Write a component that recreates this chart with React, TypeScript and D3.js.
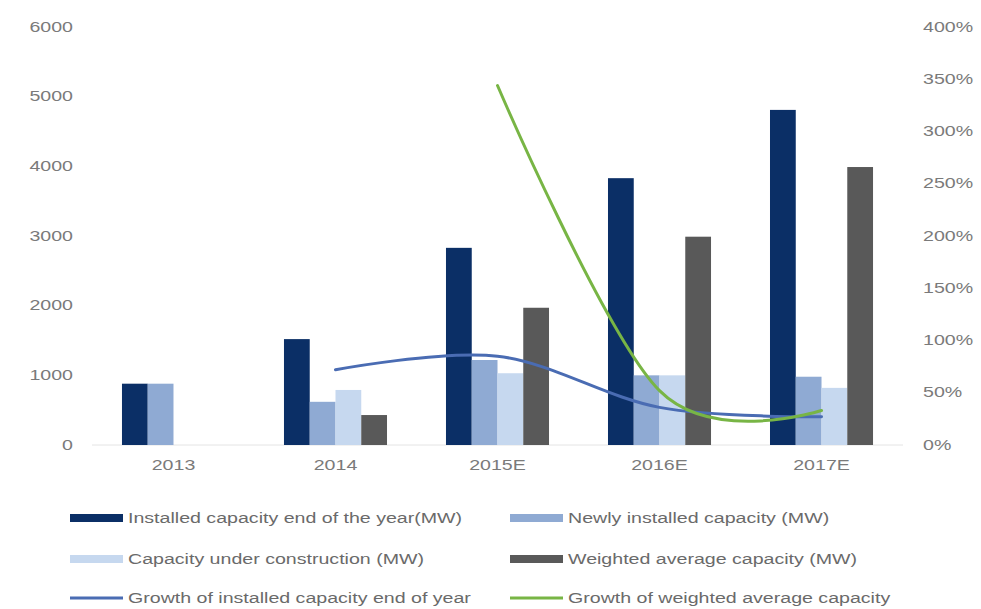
import React from "react";
import * as d3 from "d3";

const categories = ["2013", "2014", "2015E", "2016E", "2017E"];
const installed = [880, 1520, 2830, 3830, 4810];
const newlyInstalled = [880, 620, 1220, 1000, 980];
const underConstruction = [0, 790, 1030, 1000, 820];
const weightedAvg = [0, 430, 1970, 2990, 3990];
const growthInstalled: (number | null)[] = [null, 0.72, 0.85, 0.36, 0.27];
const growthWeighted: (number | null)[] = [null, null, 3.44, 0.52, 0.33];
const leftTicks = [0, 1000, 2000, 3000, 4000, 5000, 6000];
const rightTicks = [0, 0.5, 1, 1.5, 2, 2.5, 3, 3.5, 4];

const barSeries = [
  { key: "installed", label: "Installed capacity end of the year(MW)", values: installed, color: "#0b2f66" },
  { key: "newly", label: "Newly installed capacity (MW)", values: newlyInstalled, color: "#8faad3" },
  { key: "construction", label: "Capacity under construction (MW)", values: underConstruction, color: "#c6d8ef" },
  { key: "weighted", label: "Weighted average capacity (MW)", values: weightedAvg, color: "#595959" },
];
const lineSeries = [
  { key: "gi", label: "Growth of installed capacity end of year", values: growthInstalled, color: "#4a6cb3" },
  { key: "gw", label: "Growth of weighted average capacity", values: growthWeighted, color: "#78b545" },
];

const W = 981;
const H = 609;
const SX = 1.4;
const TXT = "#7a7a7a";

function Txt({ x, y, anchor = "start", size = 14, fill = TXT, children }: any) {
  return (
    <text
      transform={`translate(${x},${y}) scale(${SX},1)`}
      textAnchor={anchor}
      dominantBaseline="central"
      fontFamily="'Liberation Sans', Arial, sans-serif"
      fontSize={size}
      fill={fill}
    >
      {children}
    </text>
  );
}

export default function App() {
  const x0 = d3
    .scaleBand<string>()
    .domain(categories)
    .range([92, 903])
    .paddingInner(0.364)
    .paddingOuter(0.185);
  const x1 = d3
    .scaleBand<string>()
    .domain(barSeries.map((s) => s.key))
    .range([0, x0.bandwidth()])
    .padding(0);
  const yL = d3.scaleLinear().domain([0, 6000]).range([445, 27]);
  const yR = d3.scaleLinear().domain([0, 4]).range([445, 27]);
  const pct = d3.format(".0%");

  const cx = (c: string) => (x0(c) as number) + x0.bandwidth() / 2;
  const lineGen = d3
    .line<[number, number]>()
    .x((d) => d[0])
    .y((d) => d[1])
    .curve(d3.curveCatmullRom.alpha(0));

  const legendItems = [
    { ...barSeries[0], type: "bar" },
    { ...barSeries[1], type: "bar" },
    { ...barSeries[2], type: "bar" },
    { ...barSeries[3], type: "bar" },
    { ...lineSeries[0], type: "line" },
    { ...lineSeries[1], type: "line" },
  ];
  const legendRows = [518, 559, 598];
  const legendCols = [70, 510];

  return (
    <svg width={W} height={H} style={{ position: "absolute", left: 0, top: 0, background: "#fff" }}>
      <rect x={0} y={0} width={W} height={H} fill="#fff" />
      <line x1={92} x2={903} y1={yL(0)} y2={yL(0)} stroke="#e4e4e4" strokeWidth={1} />

      {leftTicks.map((t) => (
        <Txt key={"l" + t} x={73} y={yL(t)} anchor="end">
          {t}
        </Txt>
      ))}
      {rightTicks.map((t) => (
        <Txt key={"r" + t} x={923} y={yR(t)} anchor="start">
          {pct(t)}
        </Txt>
      ))}

      {categories.map((c, i) => (
        <g key={c} transform={`translate(${x0(c)},0)`}>
          {barSeries.map((s) =>
            s.values[i] > 0 ? (
              <rect
                key={s.key}
                x={x1(s.key)}
                width={x1.bandwidth()}
                y={yL(s.values[i])}
                height={yL(0) - yL(s.values[i])}
                fill={s.color}
              />
            ) : null
          )}
        </g>
      ))}

      {categories.map((c) => (
        <Txt key={"c" + c} x={cx(c)} y={465} anchor="middle">
          {c}
        </Txt>
      ))}

      {lineSeries.map((s) => {
        const pts: [number, number][] = [];
        s.values.forEach((v, i) => {
          if (v != null) pts.push([cx(categories[i]), yR(v)]);
        });
        return (
          <path
            key={s.key}
            d={lineGen(pts) || ""}
            fill="none"
            stroke={s.color}
            strokeWidth={3}
            strokeLinecap="round"
          />
        );
      })}

      {legendItems.map((it, i) => {
        const row = Math.floor(i / 2);
        const col = i % 2;
        const lx = legendCols[col];
        const ly = legendRows[row];
        return (
          <g key={"lg" + i}>
            {it.type === "bar" ? (
              <rect x={lx} y={ly - 4} width={53} height={8} fill={it.color} />
            ) : (
              <line x1={lx} x2={lx + 53} y1={ly} y2={ly} stroke={it.color} strokeWidth={3} />
            )}
            <Txt x={lx + 58} y={ly} fill="#6a6a6a">
              {it.label}
            </Txt>
          </g>
        );
      })}
    </svg>
  );
}
